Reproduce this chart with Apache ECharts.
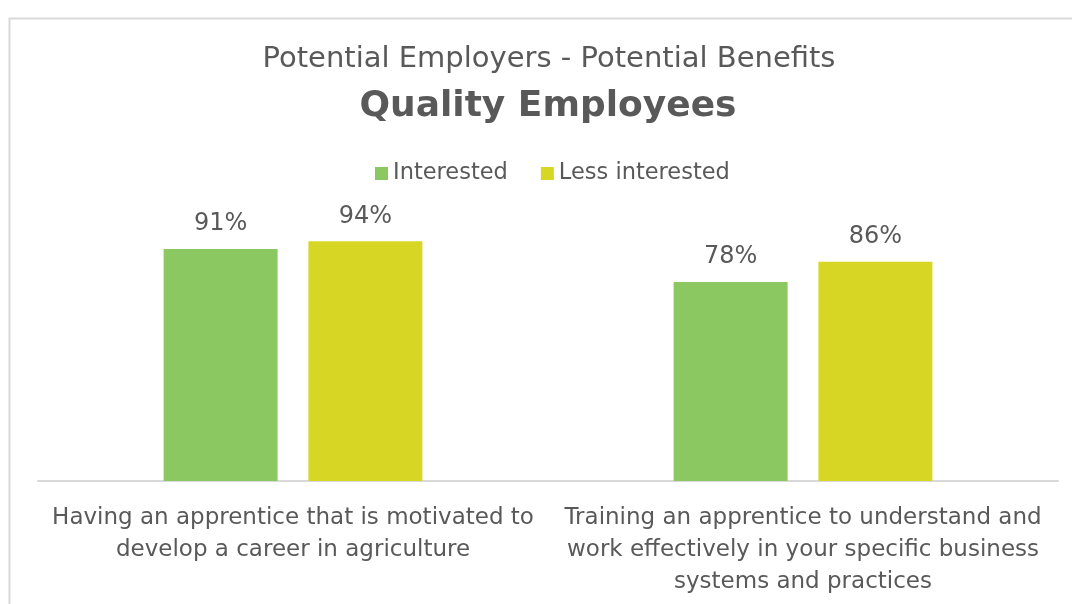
<!DOCTYPE html>
<html>
<head>
<meta charset="utf-8">
<script src="https://cdn.jsdelivr.net/npm/echarts@6/dist/echarts.min.js"></script>
<style>
  html, body { margin: 0; padding: 0; background: #fff; }
  #chart { width: 1072px; height: 604px; }
</style>
</head>
<body>
<div id="chart"></div>
<script>
// Share of respondents who see each benefit, by interest group
const categories = [
  'Having an apprentice that is motivated to\ndevelop a career in agriculture',
  'Training an apprentice to understand and\nwork effectively in your specific business\nsystems and practices'
];
const interested = [91, 78];
const lessInterested = [94, 86];
const seriesNames = ['Interested', 'Less interested'];

const FONT = 'DejaVu Sans';
const TEXT = '#595959';

const chart = echarts.init(document.getElementById('chart'), null, { renderer: 'canvas' });

chart.setOption({
  animation: false,
  backgroundColor: '#ffffff',
  textStyle: { fontFamily: FONT, color: TEXT },
  graphic: [{
    type: 'rect',
    left: 7, top: 16,
    shape: { width: 1200, height: 700 },
    style: { fill: 'none', stroke: '#d9d9d9', lineWidth: 2 },
    silent: true
  }],
  title: [
    {
      text: 'Potential Employers - Potential Benefits',
      left: 544, top: 37, textAlign: 'center',
      textStyle: { fontFamily: FONT, fontSize: 29, fontWeight: 'normal', color: TEXT, lineHeight: 34 }
    },
    {
      text: 'Quality Employees',
      left: 543, top: 80, textAlign: 'center',
      textStyle: { fontFamily: FONT, fontSize: 36, fontWeight: 'bold', color: TEXT, lineHeight: 44 }
    }
  ],
  legend: {
    top: 157,
    left: 370,
    itemWidth: 13,
    itemHeight: 13,
    itemGap: 33,
    icon: 'rect',
    textStyle: { fontFamily: FONT, fontSize: 22.5, color: TEXT },
    data: seriesNames
  },
  grid: { left: 38, right: 14, top: 226, bottom: 123, containLabel: false },
  xAxis: {
    type: 'category',
    data: categories,
    axisLine: { lineStyle: { color: '#d9d9d9', width: 2 } },
    axisTick: { show: false },
    axisLabel: {
      interval: 0,
      margin: 21,
      fontFamily: FONT,
      fontSize: 23,
      lineHeight: 32,
      color: TEXT,
      align: 'center'
    }
  },
  yAxis: {
    type: 'value',
    min: 0, max: 100,
    show: false,
    splitLine: { show: false }
  },
  series: [
    {
      name: seriesNames[0],
      type: 'bar',
      data: interested,
      barWidth: 114,
      barGap: '27%',
      itemStyle: { color: '#8cc862' },
      label: { show: true, position: 'top', distance: 13, formatter: '{c}%', fontFamily: FONT, fontSize: 24, color: TEXT }
    },
    {
      name: seriesNames[1],
      type: 'bar',
      data: lessInterested,
      barWidth: 114,
      barGap: '27%',
      itemStyle: { color: '#d7d625' },
      label: { show: true, position: 'top', distance: 13, formatter: '{c}%', fontFamily: FONT, fontSize: 24, color: TEXT }
    }
  ]
});
</script>
</body>
</html>
